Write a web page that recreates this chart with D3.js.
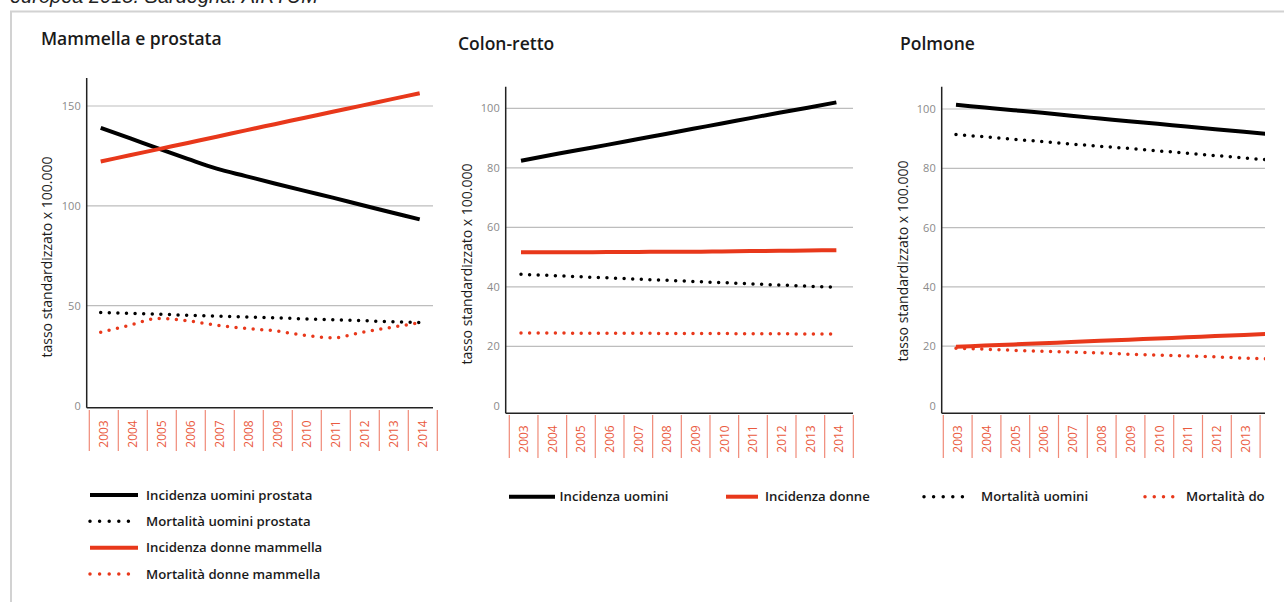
<!DOCTYPE html>
<html><head><meta charset="utf-8">
<script src="https://cdn.jsdelivr.net/npm/d3@7"></script>
<style>
html,body{margin:0;padding:0;background:#fff;}
svg{display:block;}
</style></head><body>
<svg id="c" width="1284" height="602"></svg>
<script>
// ---------- DATA ----------
const headerText = "europea 2015. Sardegna. AIRTUM";
const yLabel = "tasso standardizzato x 100.000";
const years = ["2003","2004","2005","2006","2007","2008","2009","2010","2011","2012","2013","2014"];

const mpTitle = "Mammella e prostata";
const mpTicks = [0, 50, 100, 150];
const mpIncUomini  = [139.1, 133.9, 128.6, 123.5, 118.6, 114.9, 111.2, 107.6, 104.1, 100.4, 96.8, 93.2];
const mpMortUomini = [46.6, 46.1, 45.7, 45.2, 44.8, 44.3, 43.9, 43.4, 43.0, 42.5, 42.0, 41.5];
const mpIncDonne   = [122.2, 125.3, 128.4, 131.5, 134.6, 137.8, 140.9, 144.0, 147.1, 150.2, 153.3, 156.4];
const mpMortDonne  = [36.7, 40.2, 43.6, 42.4, 40.2, 38.6, 37.4, 35.2, 33.9, 36.6, 39.1, 41.4];
const mpLegend = ["Incidenza uomini prostata", "Mortalità uomini prostata", "Incidenza donne mammella", "Mortalità donne mammella"];

const crTitle = "Colon-retto";
const crTicks = [0, 20, 40, 60, 80, 100];
const crIncUomini  = [82.4, 84.2, 86.0, 87.7, 89.5, 91.3, 93.1, 94.9, 96.7, 98.5, 100.2, 102.0];
const crMortUomini = [44.2, 43.8, 43.4, 43.0, 42.6, 42.2, 41.8, 41.4, 41.0, 40.6, 40.2, 39.9];
const crIncDonne   = [51.6, 51.6, 51.6, 51.7, 51.7, 51.8, 51.8, 51.9, 52.0, 52.1, 52.2, 52.3];
const crMortDonne  = [24.5, 24.5, 24.4, 24.4, 24.4, 24.3, 24.3, 24.3, 24.2, 24.2, 24.1, 24.1];

const poTitle = "Polmone";
const poTicks = [0, 20, 40, 60, 80, 100];
const poIncUomini  = [101.4, 100.5, 99.6, 98.7, 97.7, 96.8, 95.9, 95.0, 94.1, 93.2, 92.3, 91.4];
const poMortUomini = [91.4, 90.6, 89.8, 89.0, 88.2, 87.4, 86.7, 85.9, 85.1, 84.3, 83.5, 82.7];
const poIncDonne   = [19.8, 20.2, 20.6, 21.0, 21.4, 21.8, 22.2, 22.6, 23.0, 23.4, 23.8, 24.2];
const poMortDonne  = [19.3, 19.0, 18.6, 18.3, 18.0, 17.7, 17.3, 17.0, 16.7, 16.4, 16.0, 15.7];

const sharedLegend = ["Incidenza uomini", "Incidenza donne", "Mortalità uomini", "Mortalità donne"];

// ---------- STYLE ----------
const RED = "#e8381b";
const BLACK = "#000";
const FONT = "'Open Sans', Roboto, sans-serif";
const styles = {
  incU: {color: BLACK, dotted: false},
  mortU: {color: BLACK, dotted: true},
  incD: {color: RED, dotted: false},
  mortD: {color: RED, dotted: true}
};

const svg = d3.select("#c");
svg.append("rect").attr("x",0).attr("y",0).attr("width",1284).attr("height",602).attr("fill","#fff");

// header (partially cut, as in the source)
svg.append("text").attr("x", 10).attr("y", 3)
  .attr("font-family", "'Liberation Sans', Arial, sans-serif")
  .attr("font-style", "italic").attr("font-size", 20).attr("fill", "#222")
  .text(headerText);

// frame
svg.append("path").attr("d", "M11,700 V11.5 H1300")
  .attr("fill","none").attr("stroke","#d2d2d2").attr("stroke-width",2);

svg.append("clipPath").attr("id","clip").append("rect")
  .attr("x",0).attr("y",0).attr("width",1265).attr("height",602);
const root = svg.append("g").attr("clip-path","url(#clip)");

function drawPanel(cfg) {
  const g = root.append("g");
  const band = d3.scaleBand().domain(years).range([cfg.bandStart, cfg.bandStart + cfg.bw * years.length]).paddingInner(0).paddingOuter(0);
  const y = d3.scaleLinear().domain([0, cfg.topVal]).range([cfg.y0, cfg.yTop]);
  const xp = d => band(d) + cfg.ptOff;

  // gridlines
  g.selectAll(".grid").data(cfg.ticks.filter(t => t > 0)).join("line")
    .attr("x1", cfg.axisX).attr("x2", cfg.gridEnd)
    .attr("y1", d => y(d)).attr("y2", d => y(d))
    .attr("stroke", "#bdbdbd").attr("stroke-width", 1.2);

  // y axis labels
  const ya = g.append("g").attr("transform", `translate(${cfg.axisX},0)`)
    .call(d3.axisLeft(y).tickValues(cfg.ticks).tickSize(0).tickPadding(6).tickFormat(d3.format("d")));
  ya.select(".domain").remove();
  ya.selectAll("text").attr("font-family", FONT).attr("font-size", 11).attr("fill", "#8a8a8a");

  // axis lines
  g.append("line").attr("x1", cfg.axisX).attr("x2", cfg.axisX).attr("y1", cfg.axisTop).attr("y2", cfg.baseline)
    .attr("stroke", "#222").attr("stroke-width", 1.5);
  g.append("line").attr("x1", cfg.axisX).attr("x2", cfg.gridEnd).attr("y1", cfg.baseline).attr("y2", cfg.baseline)
    .attr("stroke", "#222").attr("stroke-width", 1.5);

  // band separators
  const edges = years.map(d => band(d)).concat([band(years[years.length-1]) + band.bandwidth()]);
  g.selectAll(".sep").data(edges).join("line")
    .attr("x1", d => d).attr("x2", d => d).attr("y1", cfg.sepTop).attr("y2", cfg.sepBot)
    .attr("stroke", "#f08a78").attr("stroke-width", 1.2);

  // year labels
  const xa = g.append("g").attr("transform", `translate(0,${cfg.yearY})`)
    .call(d3.axisBottom(band).tickSize(0).tickPadding(0));
  xa.select(".domain").remove();
  xa.selectAll("text").attr("font-family", FONT).attr("font-size", 12).attr("fill", "#ea5a40")
    .attr("transform", "rotate(-90)").attr("text-anchor", "middle").attr("x", 0).attr("y", 0).attr("dy", "0.35em");

  // y label
  g.append("text").attr("transform", `translate(${cfg.yLabelX},${cfg.yLabelY}) rotate(-90)`)
    .attr("text-anchor", "middle").attr("dy", "0.35em")
    .attr("font-family", FONT).attr("font-size", 14).attr("fill", "#1a1a1a").text(yLabel);

  // title
  g.append("text").attr("x", cfg.titleX).attr("y", cfg.titleY)
    .attr("font-family", FONT).attr("font-weight", 600).attr("font-size", 17.5).attr("fill", "#1a1a1a").text(cfg.title);

  // series
  const line = d3.line().x((d, i) => xp(years[i])).y(d => y(d)).curve(d3.curveMonotoneX);
  cfg.series.forEach(s => {
    const st = styles[s.key];
    g.append("path").datum(s.values).attr("d", line).attr("fill", "none")
      .attr("stroke", st.color)
      .attr("stroke-width", st.dotted ? 3.5 : 4)
      .attr("stroke-linecap", st.dotted ? "round" : "butt")
      .attr("stroke-dasharray", st.dotted ? "0 8.6" : null);
  });
}

drawPanel({title: mpTitle, ticks: mpTicks, topVal: 150, y0: 405.5, yTop: 106,
  axisX: 86.7, axisTop: 78, baseline: 407.7, gridEnd: 433, bandStart: 89.3, bw: 29, ptOff: 11.4,
  titleX: 41, titleY: 45, yLabelX: 47, yLabelY: 257, sepTop: 410, sepBot: 451, yearY: 434,
  series: [{key:"incU", values: mpIncUomini}, {key:"incD", values: mpIncDonne},
           {key:"mortU", values: mpMortUomini}, {key:"mortD", values: mpMortDonne}]});

drawPanel({title: crTitle, ticks: crTicks, topVal: 100, y0: 405.8, yTop: 108.3,
  axisX: 505.7, axisTop: 86.7, baseline: 413.3, gridEnd: 853, bandStart: 509.3, bw: 28.67, ptOff: 11.7,
  titleX: 458, titleY: 50, yLabelX: 467, yLabelY: 264, sepTop: 415, sepBot: 458, yearY: 439,
  series: [{key:"incU", values: crIncUomini}, {key:"incD", values: crIncDonne},
           {key:"mortU", values: crMortUomini}, {key:"mortD", values: crMortDonne}]});

drawPanel({title: poTitle, ticks: poTicks, topVal: 100, y0: 405.5, yTop: 109,
  axisX: 941.7, axisTop: 86.7, baseline: 413.3, gridEnd: 1300, bandStart: 943.3, bw: 28.8, ptOff: 12.7,
  titleX: 900, titleY: 50, yLabelX: 903, yLabelY: 261, sepTop: 415, sepBot: 458, yearY: 439,
  series: [{key:"incU", values: poIncUomini}, {key:"incD", values: poIncDonne},
           {key:"mortU", values: poMortUomini}, {key:"mortD", values: poMortDonne}]});

// ---------- LEGENDS ----------
function legendItem(g, key, x0, x1, yy, tx, label, gap) {
  const st = styles[key];
  g.append("line").attr("x1", x0).attr("x2", x1).attr("y1", yy).attr("y2", yy)
    .attr("stroke", st.color).attr("stroke-width", st.dotted ? 3.5 : 4)
    .attr("stroke-linecap", st.dotted ? "round" : "butt")
    .attr("stroke-dasharray", st.dotted ? `0 ${gap}` : null);
  g.append("text").attr("x", tx).attr("y", yy).attr("dy", "0.35em")
    .attr("font-family", FONT).attr("font-weight", 600).attr("font-size", 13.2).attr("fill", "#1a1a1a").text(label);
}
const lg1 = root.append("g");
const keys1 = ["incU", "mortU", "incD", "mortD"];
const rowsY = d3.scalePoint().domain(mpLegend).range([495, 574]);
mpLegend.forEach((lab, i) => legendItem(lg1, keys1[i], 90, 138, rowsY(lab), 146, lab, 9.6));

const lg2 = root.append("g");
const keys2 = ["incU", "incD", "mortU", "mortD"];
const pos2 = [[509, 555, 559.5, 0], [726, 758, 765, 0], [924, 972, 981, 9.6], [1145, 1182, 1186, 9.25]];
sharedLegend.forEach((lab, i) => legendItem(lg2, keys2[i], pos2[i][0], pos2[i][1], 496.7, pos2[i][2], lab, pos2[i][3]));
</script>
</body></html>
